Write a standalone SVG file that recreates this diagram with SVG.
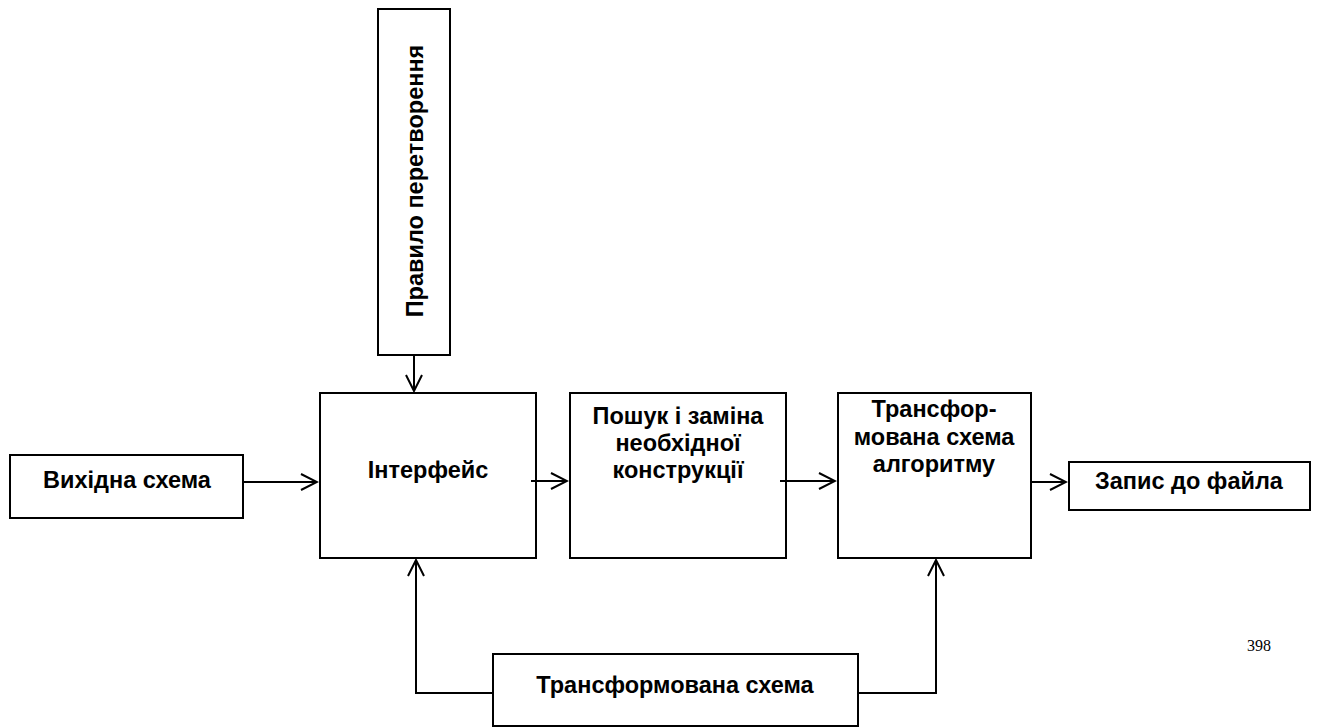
<svg xmlns="http://www.w3.org/2000/svg" width="1317" height="728" viewBox="0 0 1317 728">
<defs>
<marker id="arr" viewBox="0 0 20 20" refX="18" refY="10" markerWidth="20" markerHeight="20" markerUnits="userSpaceOnUse" orient="auto">
<path d="M2,2 L18,10 L2,18" fill="none" stroke="#000" stroke-width="2"/>
</marker>
<style>
.box{fill:#fff;stroke:#000;stroke-width:2}
.t{font-family:"Liberation Sans",Arial,sans-serif;font-weight:bold;font-size:23.5px;fill:#000;text-anchor:middle}
.c{fill:none;stroke:#000;stroke-width:2}
</style>
</defs>
<rect width="1317" height="728" fill="#fff"/>
<g id="rule">
<rect class="box" x="378" y="9" width="72" height="346"/>
<text class="t" transform="translate(423,181) rotate(-90)">Правило перетворення</text>
</g>
<g id="source">
<rect class="box" x="10" y="455" width="233" height="63"/>
<text class="t" x="127" y="488">Вихідна схема</text>
</g>
<g id="interface">
<rect class="box" x="320" y="393" width="216" height="165"/>
<text class="t" x="428" y="478">Інтерфейс</text>
</g>
<g id="search">
<rect class="box" x="570" y="393" width="216" height="165"/>
<text class="t" x="678" y="424">Пошук і заміна</text>
<text class="t" x="678" y="451">необхідної</text>
<text class="t" x="678" y="478">конструкції</text>
</g>
<g id="transformed-alg">
<rect class="box" x="838" y="393" width="193" height="165"/>
<text class="t" x="934" y="417">Трансфор-</text>
<text class="t" x="934" y="445">мована схема</text>
<text class="t" x="934" y="472">алгоритму</text>
</g>
<g id="write">
<rect class="box" x="1069" y="462" width="241" height="48"/>
<text class="t" x="1189" y="489">Запис до файла</text>
</g>
<g id="transformed">
<rect class="box" x="493" y="654" width="365" height="72"/>
<text class="t" x="675" y="693">Трансформована схема</text>
</g>
<g id="connectors">
<path class="c" d="M414,355 V391" marker-end="url(#arr)"/>
<path class="c" d="M243,482 H317" marker-end="url(#arr)"/>
<path class="c" d="M531,481 H567" marker-end="url(#arr)"/>
<path class="c" d="M780,481 H835" marker-end="url(#arr)"/>
<path class="c" d="M1031,482 H1066" marker-end="url(#arr)"/>
<path class="c" d="M493,693 H416 V560" marker-end="url(#arr)"/>
<path class="c" d="M858,693 H936 V560" marker-end="url(#arr)"/>
</g>
<text x="1247" y="651" font-family="Liberation Serif,'Times New Roman',serif" font-size="16" fill="#000">398</text>
</svg>
